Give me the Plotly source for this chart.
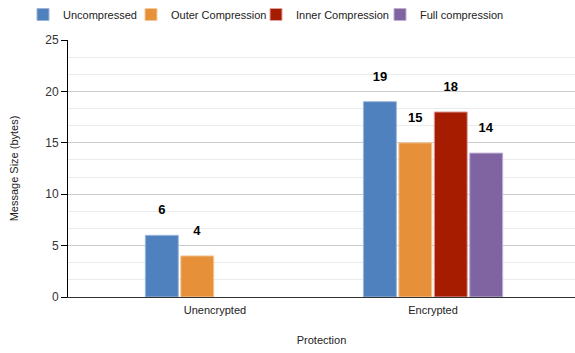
import plotly.graph_objects as go

# Message sizes by protection mode and compression scheme
categories = ["Unencrypted", "Encrypted"]
series_names = ["Uncompressed", "Outer Compression", "Inner Compression", "Full compression"]
uncompressed = [6, 19]
outer_compression = [4, 15]
inner_compression = [None, 18]
full_compression = [None, 14]
y_ticks = [0, 5, 10, 15, 20, 25]

series_values = [uncompressed, outer_compression, inner_compression, full_compression]
colors = ["#4e81bd", "#e6913a", "#a61c00", "#8064a2"]
edge_colors = ["#9db6d8", "#f3c9a0", "#e0a0a0", "#c0b0d2"]

FONT = "Liberation Sans, Arial, sans-serif"

# one single-entry legend per series, laid out in a row across the top
legend_ids = ["legend", "legend2", "legend3", "legend4"]
legend_x_px = [23, 131, 256, 380]

fig = go.Figure()
for name, vals, col, edge, lid in zip(series_names, series_values, colors, edge_colors, legend_ids):
    labels = [
        "" if v is None else f"<b>{v}</b><br><span style='font-size:4px'> </span>"
        for v in vals
    ]
    fig.add_trace(go.Bar(
        name=name,
        x=categories,
        y=vals,
        legend=lid,
        marker=dict(color=col, line=dict(color=edge, width=1)),
        text=labels,
        textposition="outside",
        textfont=dict(family=FONT, size=13, color="#000000"),
        cliponaxis=False,
    ))

legend_layout = {}
for lid, xp in zip(legend_ids, legend_x_px):
    legend_layout[lid] = dict(
        orientation="h",
        xref="container",
        x=xp / 575, xanchor="left",
        yref="container",
        y=1.0, yanchor="top",
        bgcolor="rgba(0,0,0,0)",
        font=dict(family=FONT, size=11, color="#222222"),
        itemwidth=30,
    )

fig.update_layout(
    width=575,
    height=353,
    margin=dict(l=68, r=0, t=40, b=56, autoexpand=False),
    paper_bgcolor="white",
    plot_bgcolor="white",
    font=dict(family=FONT, size=11, color="#222222"),
    barmode="group",
    bargap=0.35,
    bargroupgap=0.07,
    showlegend=True,
    xaxis=dict(
        type="category",
        range=[-0.674, 1.651],
        showgrid=False,
        showline=True,
        linecolor="#333333",
        linewidth=1,
        ticks="",
        ticklabelstandoff=3,
        tickfont=dict(family=FONT, size=11, color="#222222"),
        title=dict(text="Protection", font=dict(family=FONT, size=11, color="#222222"), standoff=21),
    ),
    yaxis=dict(
        range=[0, 25],
        tickvals=y_ticks,
        showgrid=True,
        gridcolor="#cccccc",
        gridwidth=1,
        showline=True,
        linecolor="#000000",
        linewidth=1,
        ticks="outside",
        ticklen=6,
        tickcolor="#000000",
        tickfont=dict(family=FONT, size=12, color="#333333"),
        zeroline=False,
        minor=dict(dtick=5 / 3, tick0=0, showgrid=True, gridcolor="#ebebeb", gridwidth=1),
        title=dict(text="Message Size (bytes)", font=dict(family=FONT, size=11, color="#222222"), standoff=24),
    ),
    **legend_layout,
)

fig.write_html("out.html")
